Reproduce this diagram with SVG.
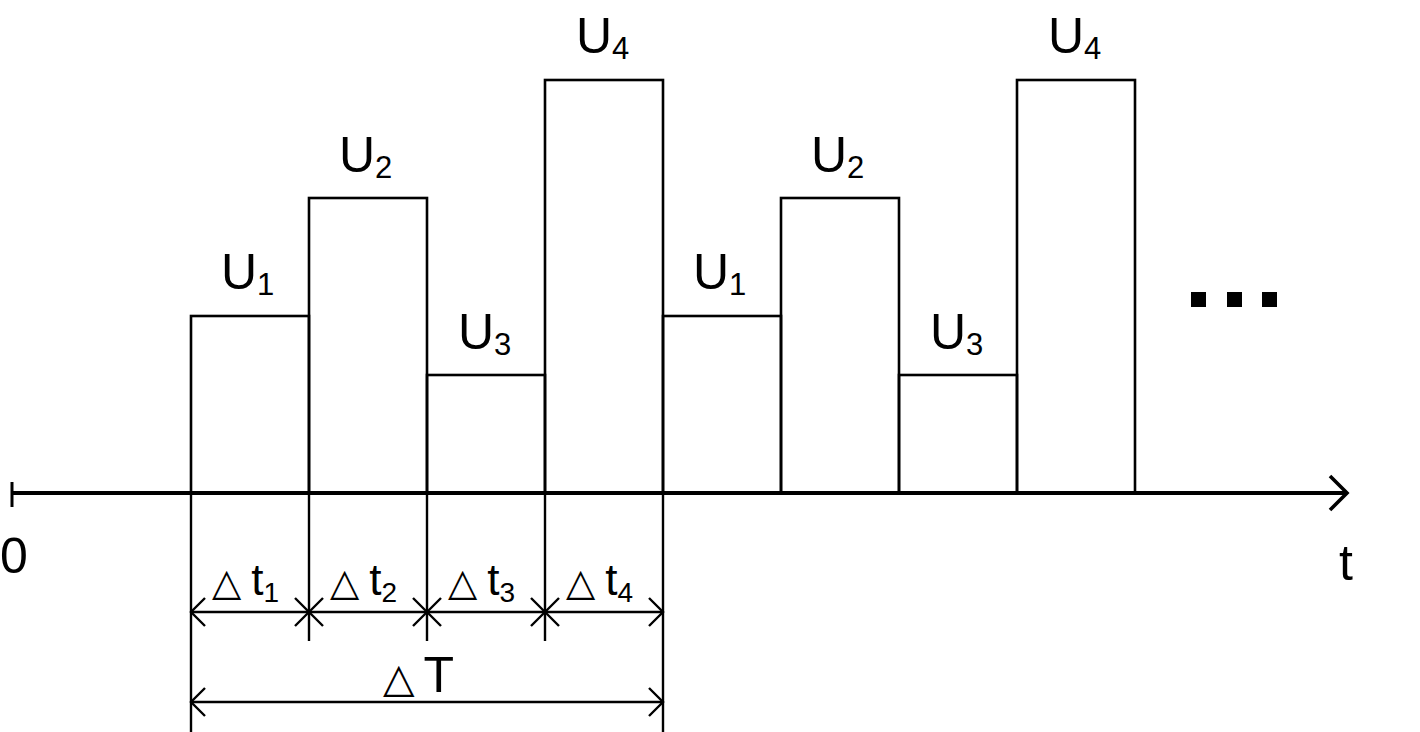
<svg xmlns="http://www.w3.org/2000/svg" width="1420" height="732" viewBox="0 0 1420 732">
<style>
.bar{fill:none;stroke:#000;stroke-width:2.6}
.ax{fill:none;stroke:#000;stroke-width:4}
.dim{fill:none;stroke:#000;stroke-width:2.4}
.lbl{font-family:"Liberation Sans",Arial,sans-serif;font-size:50px;fill:#000}
.sub{font-size:31px}
.dl{font-family:"Liberation Sans",Arial,sans-serif;font-size:44px;fill:#000}
.dsub{font-size:28px}
.tri{font-family:"DejaVu Sans",sans-serif;font-size:38px}
</style>
<rect width="1420" height="732" fill="#fff"/>
<g id="pulses">
<rect class="bar" x="191" y="316" width="118" height="177"/>
<rect class="bar" x="309" y="198" width="118" height="295"/>
<rect class="bar" x="427" y="375" width="118" height="118"/>
<rect class="bar" x="545" y="80" width="118" height="413"/>
<rect class="bar" x="663" y="316" width="118" height="177"/>
<rect class="bar" x="781" y="198" width="118" height="295"/>
<rect class="bar" x="899" y="375" width="118" height="118"/>
<rect class="bar" x="1017" y="80" width="118" height="413"/>
</g>
<g id="labels">
<text class="lbl" x="221" y="289">U<tspan class="sub" dy="6">1</tspan></text>
<text class="lbl" x="339" y="172">U<tspan class="sub" dy="6">2</tspan></text>
<text class="lbl" x="458" y="349">U<tspan class="sub" dy="6">3</tspan></text>
<text class="lbl" x="576" y="53">U<tspan class="sub" dy="6">4</tspan></text>
<text class="lbl" x="693" y="289">U<tspan class="sub" dy="6">1</tspan></text>
<text class="lbl" x="811" y="172">U<tspan class="sub" dy="6">2</tspan></text>
<text class="lbl" x="930" y="349">U<tspan class="sub" dy="6">3</tspan></text>
<text class="lbl" x="1048" y="53">U<tspan class="sub" dy="6">4</tspan></text>
<text class="lbl" x="0" y="573">0</text>
<text class="lbl" x="1339" y="580">t</text>
</g>
<g id="ellipsis">
<rect x="1191" y="292" width="15" height="15" fill="#000"/>
<rect x="1227" y="292" width="15" height="15" fill="#000"/>
<rect x="1262" y="292" width="15" height="15" fill="#000"/>
</g>
<g id="connectors">
<line class="ax" x1="12" y1="493" x2="1347" y2="493"/>
<line class="dim" x1="12" y1="482" x2="12" y2="507" style="stroke-width:3"/>
<polyline class="ax" points="1330,476 1347,493 1330,510" style="stroke-width:3.6"/>
<line class="dim" x1="191" y1="493" x2="191" y2="732"/>
<line class="dim" x1="663" y1="493" x2="663" y2="732"/>
<line class="dim" x1="309" y1="493" x2="309" y2="641"/>
<line class="dim" x1="427" y1="493" x2="427" y2="641"/>
<line class="dim" x1="545" y1="493" x2="545" y2="641"/>
<line class="dim" x1="191" y1="612" x2="663" y2="612"/>
<line class="dim" x1="191" y1="702" x2="663" y2="702"/>
<polyline class="dim" points="205,598 191,612 205,626"/>
<polyline class="dim" points="649,598 663,612 649,626"/>
<polyline class="dim" points="205,688 191,702 205,716"/>
<polyline class="dim" points="649,688 663,702 649,716"/>
<path class="dim" d="M295,598 L323,626 M323,598 L295,626"/>
<path class="dim" d="M413,598 L441,626 M441,598 L413,626"/>
<path class="dim" d="M531,598 L559,626 M559,598 L531,626"/>
</g>
<g id="dim-labels">
<text class="dl" x="212" y="595"><tspan class="tri">△</tspan><tspan dx="10">t</tspan><tspan class="dsub" dy="7">1</tspan></text>
<text class="dl" x="330" y="595"><tspan class="tri">△</tspan><tspan dx="10">t</tspan><tspan class="dsub" dy="7">2</tspan></text>
<text class="dl" x="448" y="595"><tspan class="tri">△</tspan><tspan dx="10">t</tspan><tspan class="dsub" dy="7">3</tspan></text>
<text class="dl" x="566" y="595"><tspan class="tri">△</tspan><tspan dx="10">t</tspan><tspan class="dsub" dy="7">4</tspan></text>
<text class="lbl" x="383" y="692"><tspan class="tri" style="font-size:41px">△</tspan><tspan dx="9">T</tspan></text>
</g>
</svg>
